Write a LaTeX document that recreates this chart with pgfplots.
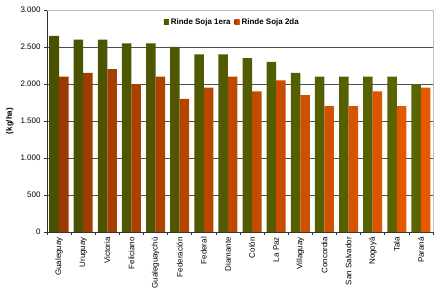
\documentclass[border=0pt]{standalone}
\usepackage{pgfplots}
\pgfplotsset{compat=1.18}
\usepackage{fontspec}
\setmainfont{Liberation Sans}
\definecolor{gL}{HTML}{4A5200}
\definecolor{gM}{HTML}{8A9A12}
\definecolor{gR}{HTML}{5A6400}
\definecolor{oL}{HTML}{9A3A00}
\definecolor{oM}{HTML}{FF6A08}
\definecolor{oR}{HTML}{E85A00}
\begin{document}
\begin{tikzpicture}[x=1bp,y=1bp]
\begin{axis}[
  at={(47bp,68bp)}, anchor=south west,
  scale only axis, width=386bp, height=222bp,
  xmin=-0.5, xmax=15.5, ymin=0, ymax=3000,
  ytick={0,500,...,3000},
  /pgf/number format/.cd, 1000 sep={.}, assume math mode=true, /pgfplots/.cd,
  xtick={0,...,15},
  xticklabels={Gualeguay,Uruguay,Victoria,Feliciano,Gualeguaychú,Federación,Federal,Diamante,Colón,La Paz,Villaguay,Concordia,San Salvador,Nogoyá,Tala,Paraná},
  xticklabel style={rotate=90, anchor=east, font=\fontsize{8}{9}\selectfont, inner sep=2bp},
  yticklabel style={font=\fontsize{8}{9}\selectfont},
  major x tick style={draw=none},
  minor xtick={-0.5,0.5,...,15.5},
  minor x tick style={black!80, line width=0.6pt},
  major tick length=3bp, minor tick length=3bp,
  tick align=outside,
  y tick style={black!80, line width=0.6pt},
  axis x line*=bottom, axis y line*=left,
  axis line style={black!80, line width=0.6pt},
  ymajorgrids, grid style={black!70, line width=0.6pt},
  ylabel={\textbf{(kg/ha)}},
  ylabel style={font=\fontsize{8}{9}\selectfont, at={(-30bp,0.5)}, anchor=south, rotate=0},
  ybar=0pt, bar width=9.5bp,
  legend columns=2,
  legend style={at={(0.48,0.945)}, anchor=center, draw=none, fill=none,
    font=\bfseries\fontsize{8}{9}\selectfont, /tikz/every even column/.append style={column sep=2bp}},
  clip=false,
]
\draw[black!25, line width=0.6pt] (rel axis cs:0,1) -- (rel axis cs:1,1) -- (rel axis cs:1,0);
\addplot[draw=none, left color=gL, middle color=gM, right color=gR,
  legend image code/.code={\fill[gM!85!black] (0bp,-2.5bp) rectangle (5bp,2.5bp);}] coordinates {
(0,2650) (1,2600) (2,2600) (3,2550) (4,2550) (5,2500) (6,2400) (7,2400)
(8,2350) (9,2300) (10,2150) (11,2100) (12,2100) (13,2100) (14,2100) (15,2000)};
\addlegendentry{Rinde Soja 1era}
\addplot[draw=none, left color=oL, middle color=oM, right color=oR,
  legend image code/.code={\fill[oM] (0bp,-2.5bp) rectangle (5bp,2.5bp);}] coordinates {
(0,2100) (1,2150) (2,2200) (3,2000) (4,2100) (5,1800) (6,1950) (7,2100)
(8,1900) (9,2050) (10,1850) (11,1700) (12,1700) (13,1900) (14,1700) (15,1950)};
\addlegendentry{Rinde Soja 2da}
\end{axis}
\pgfresetboundingbox
\path[use as bounding box] (0,0) rectangle (440,300);
\end{tikzpicture}
\end{document}
